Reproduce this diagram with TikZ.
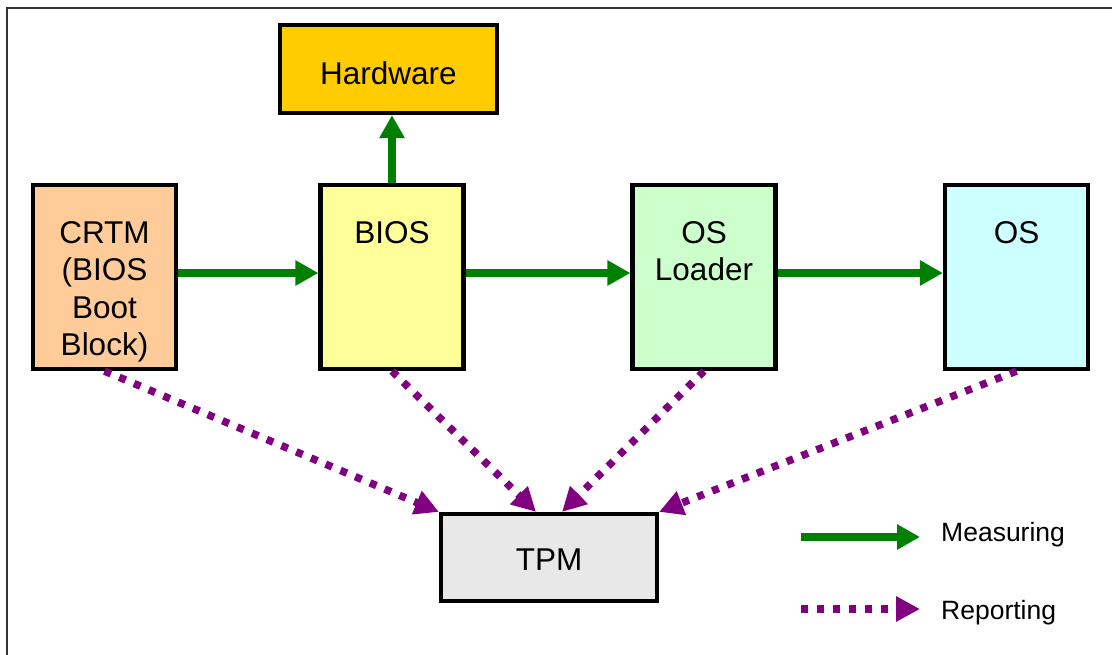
\documentclass[tikz,border=0pt]{standalone}
\usepackage{fontspec}
\setmainfont{Liberation Sans}
\usetikzlibrary{arrows.meta}

\definecolor{hwfill}{HTML}{FFCC00}
\definecolor{crtmfill}{HTML}{FFCC99}
\definecolor{biosfill}{HTML}{FFFF99}
\definecolor{oslfill}{HTML}{CCFFCC}
\definecolor{osfill}{HTML}{CCFFFF}
\definecolor{tpmfill}{HTML}{E8E8E8}
\definecolor{mgreen}{HTML}{008000}
\definecolor{mpurple}{HTML}{800080}

\begin{document}
\begin{tikzpicture}[x=1pt,y=-1pt,
  box/.style={draw=black, line width=4.2pt, rectangle, inner sep=0pt,
              minimum width=143pt, minimum height=184pt},
  lbl/.style={anchor=north, inner sep=0pt, align=center,
              font=\fontsize{31.5}{37.5}\selectfont},
  legendtxt/.style={anchor=north west, inner sep=0pt,
              font=\fontsize{26.5}{32}\selectfont},
  measure/.style={draw=mgreen, line width=8.5pt,
              -{Triangle[length=23pt,width=24pt]}},
  report/.style={draw=mpurple, line width=7.5pt, dash pattern=on 7pt off 9pt,
              -{Triangle[length=24pt,width=24pt]}},
]
\useasboundingbox (0,0) rectangle (1112,655);
\clip (0,0) rectangle (1112,655);

% outer frame
\draw[line width=2pt, black!80] (7,8) rectangle (1130,680);

% boot chain boxes
\node[box, fill=crtmfill] (crtm) at (104.5,277) {};
\node[box, fill=biosfill] (bios) at (392,277) {};
\node[box, fill=oslfill]  (osl)  at (704,277) {};
\node[box, fill=osfill]   (os)   at (1016.5,277) {};
\node[box, fill=hwfill, minimum width=217pt, minimum height=88pt] (hw) at (388.5,69) {};
\node[box, fill=tpmfill, minimum width=216pt, minimum height=87pt] (tpm) at (549,557.5) {};

% box labels
\node[lbl] (crtmtxt) at (104.5,221) {CRTM\\(BIOS\\Boot\\Block)};
\node[lbl] (biostxt) at (392,221) {BIOS};
\node[lbl] (osltxt)  at (704,221) {OS\\Loader};
\node[lbl] (ostxt)   at (1016.5,221) {OS};
\node[lbl] (hwtxt)   at (388.5,61) {Hardware};
\node[lbl] (tpmtxt)  at (549,549) {TPM};

% measuring chain
\draw[measure] ([yshift=4pt]crtm.east) -- ([yshift=4pt]bios.west);
\draw[measure] ([yshift=4pt]bios.east) -- ([yshift=4pt]osl.west);
\draw[measure] ([yshift=4pt]osl.east) -- ([yshift=4pt]os.west);
\draw[measure] (bios.north) -- (bios.north |- hw.south);

% reporting to the TPM
\draw[report] (crtm.south) -- (tpm.north west);
\draw[report] (bios.south) -- ([xshift=-13pt]tpm.north);
\draw[report] (osl.south) -- ([xshift=13pt]tpm.north);
\draw[report] (os.south) -- (tpm.north east);

% legend
\coordinate (m0) at (801,537);
\coordinate (m1) at (920,537);
\coordinate (r0) at (801,609);
\coordinate (r1) at (920,609);
\draw[measure] (m0) -- (m1);
\draw[report] (r0) -- (r1);
\node[legendtxt] (mtxt) at (941,522.5) {Measuring};
\node[legendtxt] (rtxt) at (941,600.5) {Reporting};
\end{tikzpicture}
\end{document}
